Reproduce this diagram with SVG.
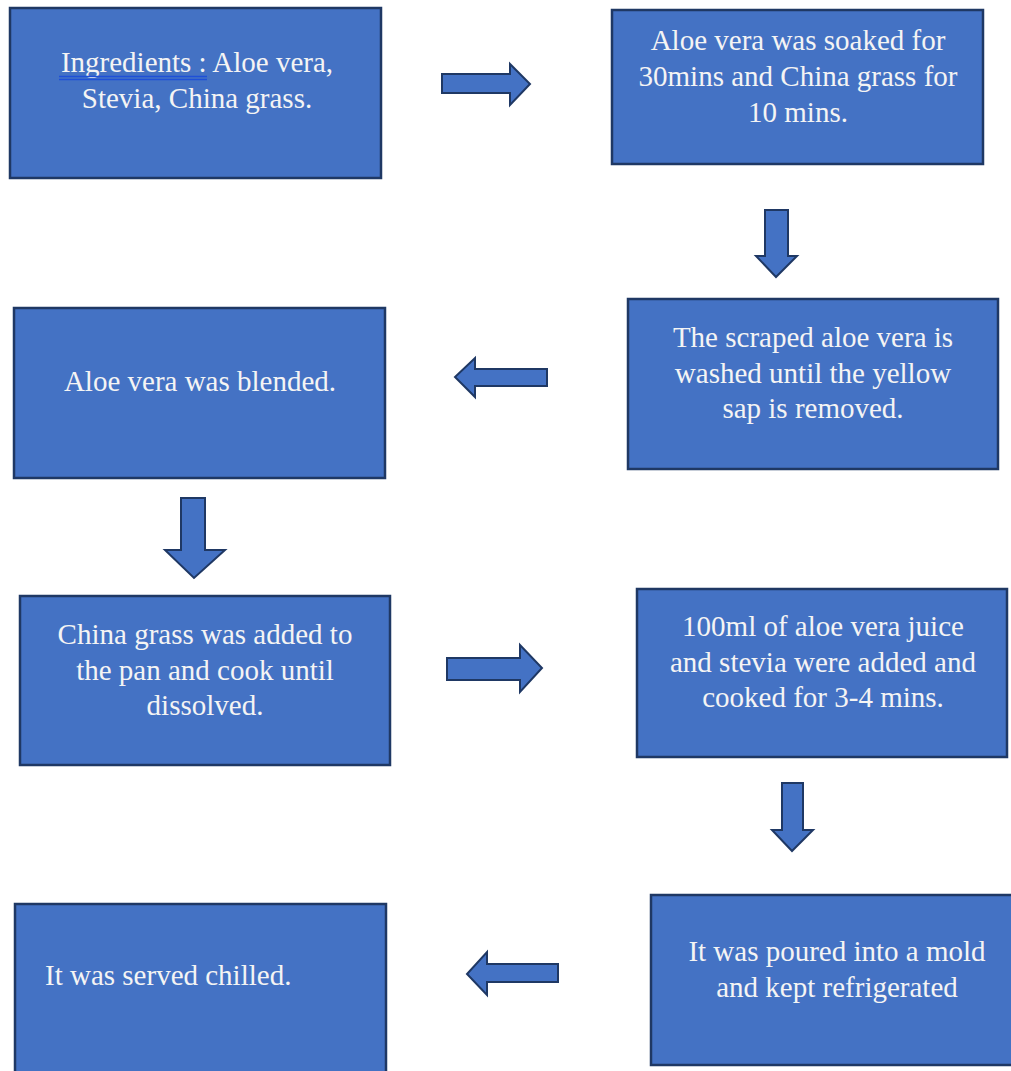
<svg xmlns="http://www.w3.org/2000/svg" width="1011" height="1071" viewBox="0 0 1011 1071">
<style>
.box{fill:#4472C4;stroke:#1F3864;stroke-width:2.5}
.arr{fill:#4472C4;stroke:#1F3864;stroke-width:2;stroke-linejoin:miter}
.t{font-family:"Liberation Serif","Times New Roman",serif;font-size:29px;fill:#F4F4F4;text-anchor:middle}
.tl{text-anchor:start}
.ul{stroke:#1E50D8;stroke-width:1.5}
</style>
<rect width="1011" height="1071" fill="#ffffff"/>
<g id="connectors">
<path class="arr" d="M442,74 H510 V64 L530,84 L510,105 V93 H442 Z"/>
<path class="arr" d="M765,210 H788 V256 H797 L776,277 L756,256 H765 Z"/>
<path class="arr" d="M547,369 H475 V358 L455,377 L475,397 V386 H547 Z"/>
<path class="arr" d="M181,498 H205 V550 H225 L194,578 L165,550 H181 Z"/>
<path class="arr" d="M447,658 H520 V645 L542,668 L520,692 V680 H447 Z"/>
<path class="arr" d="M782,783 H803 V830 H813 L792,851 L772,830 H782 Z"/>
<path class="arr" d="M558,964 H487 V952 L467,974 L487,995 V982 H558 Z"/>
</g>
<g id="n1">
<rect class="box" x="10" y="8" width="371" height="170"/>
<text class="t" x="197" y="72">Ingredients : Aloe vera,</text>
<text class="t" x="197" y="108">Stevia, China grass.</text>
<line class="ul" x1="59" y1="76.5" x2="207" y2="76.5"/>
<line class="ul" x1="59" y1="79.5" x2="207" y2="79.5"/>
</g>
<g id="n2">
<rect class="box" x="612" y="10" width="371" height="154"/>
<text class="t" x="798" y="50">Aloe vera was soaked for</text>
<text class="t" x="798" y="86">30mins and China grass for</text>
<text class="t" x="798" y="122">10 mins.</text>
</g>
<g id="n3">
<rect class="box" x="628" y="299" width="370" height="170"/>
<text class="t" x="813" y="347">The scraped aloe vera is</text>
<text class="t" x="813" y="383">washed until the yellow</text>
<text class="t" x="813" y="418">sap is removed.</text>
</g>
<g id="n4">
<rect class="box" x="14" y="308" width="371" height="170"/>
<text class="t" x="200" y="391">Aloe vera was blended.</text>
</g>
<g id="n5">
<rect class="box" x="20" y="596" width="370" height="169"/>
<text class="t" x="205" y="644">China grass was added to</text>
<text class="t" x="205" y="680">the pan and cook until</text>
<text class="t" x="205" y="715">dissolved.</text>
</g>
<g id="n6">
<rect class="box" x="637" y="589" width="370" height="168"/>
<text class="t" x="823" y="636">100ml of aloe vera juice</text>
<text class="t" x="823" y="672">and stevia were added and</text>
<text class="t" x="823" y="707">cooked for 3-4 mins.</text>
</g>
<g id="n7">
<rect class="box" x="651" y="895" width="372" height="170"/>
<text class="t" x="837" y="961">It was poured into a mold</text>
<text class="t" x="837" y="997">and kept refrigerated</text>
</g>
<g id="n8">
<rect class="box" x="15" y="904" width="371" height="180"/>
<text class="t tl" x="45" y="985">It was served chilled.</text>
</g>
</svg>
